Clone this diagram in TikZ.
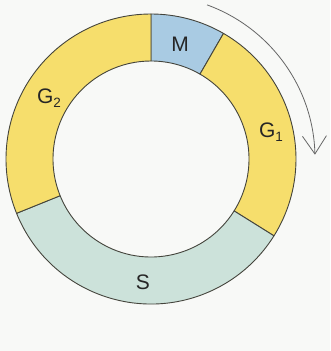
\documentclass[tikz,border=0pt]{standalone}
\usepackage{fontspec}
\setmainfont{Liberation Sans}
\usetikzlibrary{arrows.meta}
\definecolor{phaseyellow}{HTML}{F6DE6C}
\definecolor{phaseblue}{HTML}{A9CBE3}
\definecolor{phasegreen}{HTML}{CCE2DA}
\definecolor{ringline}{HTML}{44443C}
\definecolor{paper}{HTML}{F8F9F7}
\newcommand\phasesector[3]{%
  \draw[seg,fill=#3] (#1:\Ro) arc[start angle=#1,end angle=#2,radius=\Ro]
    -- (#2:\Ri) arc[start angle=#2,end angle=#1,radius=\Ri] -- cycle;}
\newcommand\sub[1]{\raisebox{-0.35ex}{\fontsize{13.5}{13.5}\selectfont #1}}
\begin{document}
\begin{tikzpicture}[
  seg/.style={draw=ringline,line width=0.9pt,line join=round},
  lbl/.style={font=\fontsize{21}{21}\selectfont,text=black!85,inner sep=0pt}]
\useasboundingbox[fill=paper] (0pt,0pt) rectangle (330pt,351pt);
\def\Ro{145pt}\def\Ri{98pt}
\begin{scope}[shift={(151pt,192pt)}]
  % the four phases of the cycle, clockwise from the top
  \phasesector{60}{90}{phaseblue}
  \phasesector{-32}{60}{phaseyellow}
  \phasesector{-158}{-32}{phasegreen}
  \phasesector{90}{202}{phaseyellow}
  % direction of progression
  \draw[black!60,line width=0.8pt,-{Straight Barb[length=18pt,width=24pt,line width=0.8pt]}]
    (70:164pt) arc[start angle=70,end angle=1.5,radius=164pt];
\end{scope}
\node[lbl] (m)  at (180pt,307pt) {M};
\node[lbl] (g1) at (271pt,219pt) {G\sub{1}};
\node[lbl] (s)  at (143pt,69pt)  {S};
\node[lbl] (g2) at (49pt,253pt)  {G\sub{2}};
\end{tikzpicture}
\end{document}
